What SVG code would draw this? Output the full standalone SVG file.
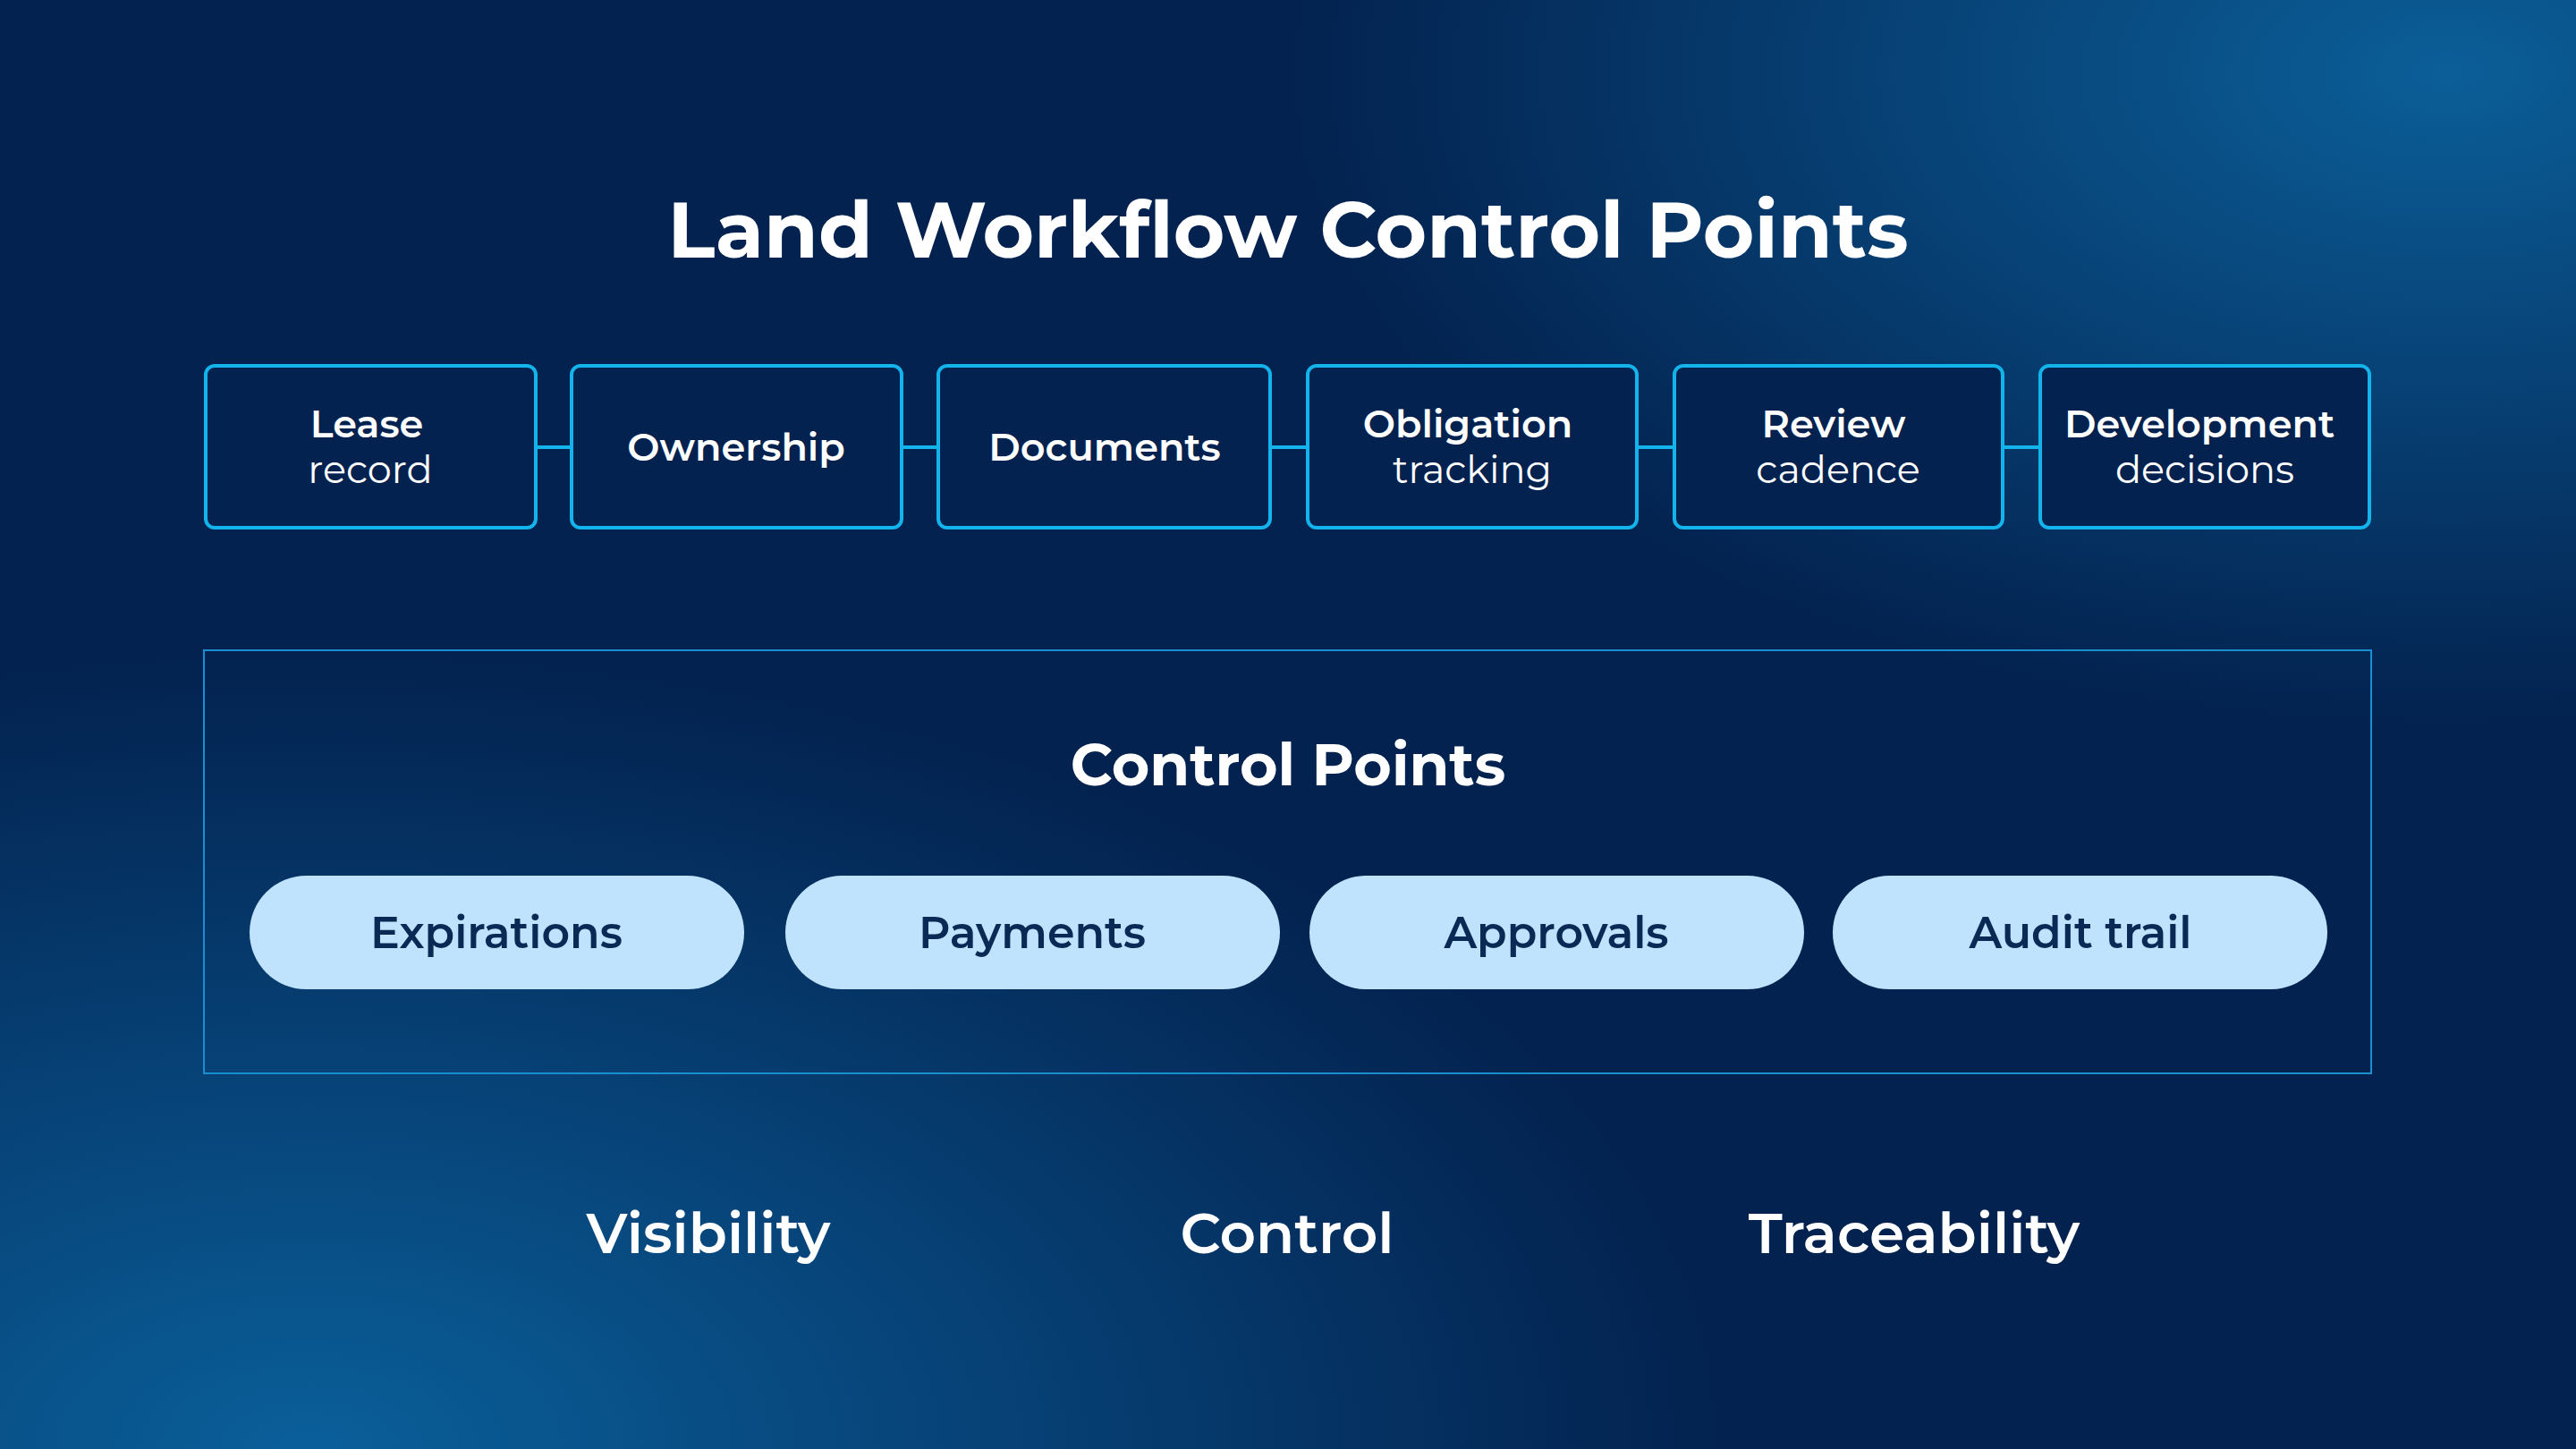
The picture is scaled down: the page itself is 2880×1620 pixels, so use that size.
<svg xmlns="http://www.w3.org/2000/svg" width="2880" height="1620" viewBox="0 0 2880 1620">
<defs>
<radialGradient id="g1" cx="0.12" cy="1.0" r="0.55"><stop offset="0" stop-color="#0a5f9a"/><stop offset="1" stop-color="#0a5f9a" stop-opacity="0"/></radialGradient>
<radialGradient id="g2" cx="0.95" cy="0.05" r="0.45"><stop offset="0" stop-color="#0b5e98"/><stop offset="1" stop-color="#0b5e98" stop-opacity="0"/></radialGradient>
<style>
.box{fill:#03224f;stroke:#13b4ec;stroke-width:4}
.conn{stroke:#13b4ec;stroke-width:4}
.pill{fill:#bfe3fc}
text{font-family:Montserrat,Inter,"Open Sans",sans-serif;text-anchor:middle}
.b{fill:#fff;font-weight:600;font-size:43px}
.r{fill:#fff;font-weight:400;font-size:43px}
.p{fill:#0a2a55;font-weight:600;font-size:49px}
.w{fill:#fff;font-weight:600;font-size:63px}
.t{fill:#fff;font-weight:700;font-size:65px}
</style>
</defs>
<rect width="2880" height="1620" fill="#03224f"/>
<rect width="2880" height="1620" fill="url(#g1)"/>
<rect width="2880" height="1620" fill="url(#g2)"/>
<text x="1440" y="288" fill="#fff" style="font-weight:700;font-size:88px">Land Workflow Control Points</text>
<g id="connectors">
<line class="conn" x1="599" y1="500" x2="639" y2="500"/>
<line class="conn" x1="1008" y1="500" x2="1049" y2="500"/>
<line class="conn" x1="1420" y1="500" x2="1462" y2="500"/>
<line class="conn" x1="1830" y1="500" x2="1872" y2="500"/>
<line class="conn" x1="2239" y1="500" x2="2281" y2="500"/>
</g>
<g id="n1"><rect class="box" x="230" y="409" width="369" height="181" rx="10"/><text class="b" x="410" y="489">Lease</text><text class="r" x="414" y="540">record</text></g>
<g id="n2"><rect class="box" x="639" y="409" width="369" height="181" rx="10"/><text class="b" x="823" y="515">Ownership</text></g>
<g id="n3"><rect class="box" x="1049" y="409" width="371" height="181" rx="10"/><text class="b" x="1235" y="515">Documents</text></g>
<g id="n4"><rect class="box" x="1462" y="409" width="368" height="181" rx="10"/><text class="b" x="1641" y="489">Obligation</text><text class="r" x="1646" y="540">tracking</text></g>
<g id="n5"><rect class="box" x="1872" y="409" width="367" height="181" rx="10"/><text class="b" x="2050" y="489">Review</text><text class="r" x="2055" y="540">cadence</text></g>
<g id="n6"><rect class="box" x="2281" y="409" width="368" height="181" rx="10"/><text class="b" x="2459" y="489">Development</text><text class="r" x="2465" y="540">decisions</text></g>
<g id="cp">
<rect x="228" y="727" width="2423" height="473" fill="none" stroke="#1a8fd0" stroke-width="2"/>
<text class="t" x="1440" y="878">Control Points</text>
</g>
<g id="p1"><rect class="pill" x="279" y="979" width="553" height="127" rx="63.5"/><text class="p" x="555" y="1060">Expirations</text></g>
<g id="p2"><rect class="pill" x="878" y="979" width="553" height="127" rx="63.5"/><text class="p" x="1154" y="1060">Payments</text></g>
<g id="p3"><rect class="pill" x="1464" y="979" width="553" height="127" rx="63.5"/><text class="p" x="1740" y="1060">Approvals</text></g>
<g id="p4"><rect class="pill" x="2049" y="979" width="553" height="127" rx="63.5"/><text class="p" x="2326" y="1060">Audit trail</text></g>
<text class="w" x="792" y="1401">Visibility</text>
<text class="w" x="1439" y="1401">Control</text>
<text class="w" x="2140" y="1401">Traceability</text>
</svg>
